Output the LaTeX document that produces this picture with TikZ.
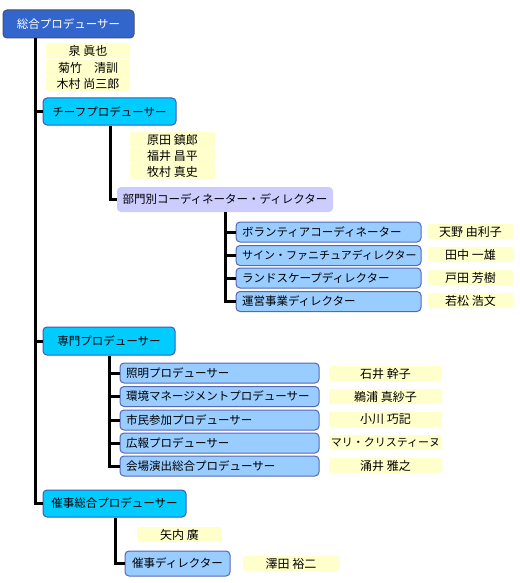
\documentclass[tikz,border=0pt]{standalone}
\usepackage{fontspec}
\setmainfont{Noto Sans CJK JP}
\definecolor{topfill}{HTML}{3366CC}
\definecolor{topdraw}{HTML}{4D4D66}
\definecolor{cyanfill}{HTML}{00CCFF}
\definecolor{cyandraw}{HTML}{4455BB}
\definecolor{subfill}{HTML}{99CCFF}
\definecolor{subdraw}{HTML}{5566BB}
\definecolor{lavfill}{HTML}{CCCCFF}
\definecolor{namefill}{HTML}{FFFFCC}
\tikzset{
  basebox/.style={rounded corners=4pt, inner sep=0pt, font=\fontsize{11.5}{13}\selectfont},
  topbox/.style={basebox, fill=topfill, draw=topdraw, line width=1pt, text=white},
  cyanbox/.style={basebox, fill=cyanfill, draw=cyandraw, line width=1pt},
  subbox/.style={basebox, fill=subfill, draw=subdraw, line width=1pt, align=left, inner xsep=6pt},
  lavbox/.style={basebox, fill=lavfill},
  namebox/.style={basebox, rounded corners=2pt, fill=namefill, font=\fontsize{12}{13}\selectfont},
  conn/.style={line width=3pt, line join=miter}
}
\begin{document}
\begin{tikzpicture}[x=1pt,y=-1pt]
\useasboundingbox (0,0) rectangle (519,583);
% top
\node[topbox, minimum width=131, minimum height=28] (top) at (68.5,24) {総合プロデューサー};
\node[namebox, minimum width=84, minimum height=15] (n1) at (88,51) {泉 眞也};
\node[namebox, minimum width=84, minimum height=15] (n2) at (88,67.5) {菊竹　清訓};
\node[namebox, minimum width=84, minimum height=15] (n3) at (88,83.5) {木村 尚三郎};
% chief
\node[cyanbox, minimum width=133, minimum height=27] (chief) at (109.5,111.5) {チーフプロデューサー};
\node[namebox, minimum width=85, minimum height=15] (n4) at (172.5,139.5) {原田 鎮郎};
\node[namebox, minimum width=85, minimum height=15] (n5) at (172.5,155.5) {福井 昌平};
\node[namebox, minimum width=85, minimum height=15] (n6) at (172.5,171.5) {牧村 真史};
\node[lavbox, minimum width=216, minimum height=25] (bumon) at (225,199.5) {部門別コーディネーター・ディレクター};
% bumon subs
\node[subbox, text width=173, minimum height=20] (b1) at (328.5,232) {ボランティアコーディネーター};
\node[subbox, text width=173, minimum height=20, font=\fontsize{11}{13}\selectfont] (b2) at (328.5,255.5) {サイン・ファニチュアディレクター};
\node[subbox, text width=173, minimum height=20] (b3) at (328.5,278) {ランドスケープディレクター};
\node[subbox, text width=173, minimum height=20] (b4) at (328.5,301.5) {運営事業ディレクター};
\node[namebox, minimum width=85, minimum height=15] (bn1) at (470.5,231.5) {天野 由利子};
\node[namebox, minimum width=85, minimum height=15] (bn2) at (470.5,254.5) {田中 一雄};
\node[namebox, minimum width=85, minimum height=15] (bn3) at (470.5,277.5) {戸田 芳樹};
\node[namebox, minimum width=85, minimum height=15] (bn4) at (470.5,300.5) {若松 浩文};
% senmon
\node[cyanbox, minimum width=132, minimum height=28] (senmon) at (109,341) {専門プロデューサー};
\node[subbox, text width=187, minimum height=20] (s1) at (219.5,373) {照明プロデューサー};
\node[subbox, text width=187, minimum height=20] (s2) at (219.5,396.5) {環境マネージメントプロデューサー};
\node[subbox, text width=187, minimum height=20] (s3) at (219.5,420) {市民参加プロデューサー};
\node[subbox, text width=187, minimum height=20] (s4) at (219.5,443) {広報プロデューサー};
\node[subbox, text width=187, minimum height=20] (s5) at (219.5,466) {会場演出総合プロデューサー};
\node[namebox, minimum width=113, minimum height=15] (sn1) at (385.5,373.5) {石井 幹子};
\node[namebox, minimum width=113, minimum height=15] (sn2) at (385.5,396.5) {鵜浦 真紗子};
\node[namebox, minimum width=113, minimum height=15] (sn3) at (385.5,419.5) {小川 巧記};
\node[namebox, minimum width=113, minimum height=15, font=\fontsize{11}{13}\selectfont] (sn4) at (385.5,442.5) {マリ・クリスティーヌ};
\node[namebox, minimum width=113, minimum height=15] (sn5) at (385.5,465.5) {涌井 雅之};
% saiji
\node[cyanbox, minimum width=143, minimum height=27] (saiji) at (114.5,503.5) {催事総合プロデューサー};
\node[namebox, minimum width=85, minimum height=15] (en1) at (179.5,534.5) {矢内 廣};
\node[cyanbox, fill=subfill, draw=subdraw, minimum width=105, minimum height=25] (sdir) at (177.5,563.5) {催事ディレクター};
\node[namebox, minimum width=96, minimum height=15] (en2) at (291,563.5) {澤田 裕二};
% connectors
\coordinate (mx) at (35,0);
\coordinate (cx) at (110,0);
\coordinate (bx) at (225,0);
\coordinate (sx) at (109,0);
\coordinate (ex) at (115,0);
\draw[conn] (top.south -| mx) |- (saiji.west);
\draw[conn] (chief.west -| mx) -- (chief.west);
\draw[conn] (senmon.west -| mx) -- (senmon.west);
\draw[conn] (chief.south -| cx) |- (bumon.west);
\draw[conn] (bumon.south -| bx) |- (b4.west);
\foreach \b in {b1,b2,b3} \draw[conn] (\b.west -| bx) -- (\b.west);
\draw[conn] (senmon.south -| sx) |- (s5.west);
\foreach \s in {s1,s2,s3,s4} \draw[conn] (\s.west -| sx) -- (\s.west);
\draw[conn] (saiji.south -| ex) |- (sdir.west);
\end{tikzpicture}
\end{document}
